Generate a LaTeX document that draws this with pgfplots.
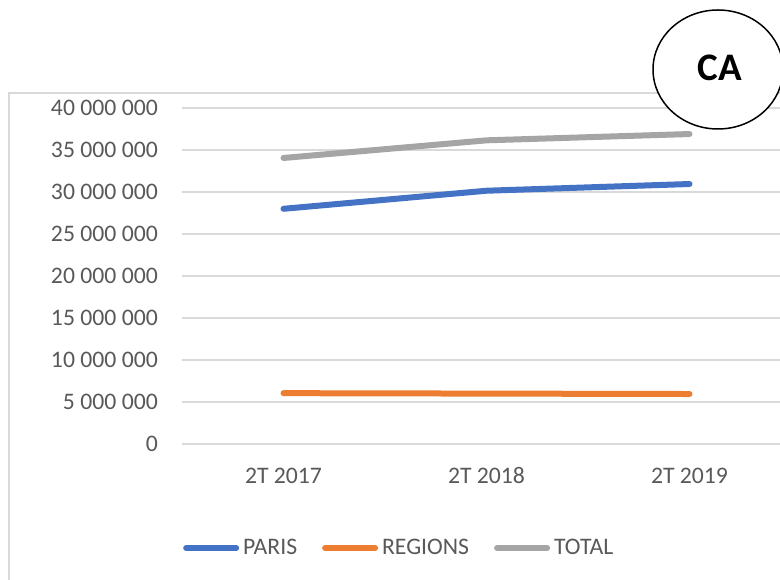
\documentclass[border=0pt]{standalone}
\usepackage{pgfplots}
\pgfplotsset{compat=1.18}
\usepackage{fontspec}
\setmainfont{Carlito}
\definecolor{cParis}{HTML}{4472C4}
\definecolor{cReg}{HTML}{ED7D31}
\definecolor{cTot}{HTML}{A5A5A5}
\definecolor{cGrid}{HTML}{D9D9D9}
\definecolor{cText}{HTML}{595959}
\begin{document}
\begin{tikzpicture}[x=1pt,y=1pt]
\useasboundingbox (0,0) rectangle (780,580);
\clip (0,0) rectangle (780,580);
\fill[white] (0,0) rectangle (780,580);
\draw[cGrid, line width=1.5pt] (9,-20) -- (9,487) -- (800,487);
\begin{axis}[
  at={(182pt,136pt)}, anchor=south west,
  scale only axis, width=609pt, height=336pt,
  xmin=-0.5, xmax=2.5, ymin=0, ymax=40000000,
  xtick={0,1,2}, xticklabels={2T 2017,2T 2018,2T 2019},
  ytick={0,5000000,10000000,15000000,20000000,25000000,30000000,35000000,40000000},
  yticklabels={0,{5 000 000},{10 000 000},{15 000 000},{20 000 000},{25 000 000},{30 000 000},{35 000 000},{40 000 000}},
  scaled y ticks=false,
  axis line style={draw=none},
  major tick length=0pt,
  ymajorgrids, grid style={cGrid, line width=1.8pt},
  yticklabel style={font=\fontsize{23.7}{28}\selectfont, text=cText, inner sep=0pt, anchor=east, xshift=-24pt},
  xticklabel style={font=\fontsize{23.7}{28}\selectfont, text=cText, inner sep=0pt, anchor=base, yshift=-40pt},
  every axis plot/.append style={line width=6pt, line cap=round, line join=round},
  legend columns=3,
  legend image code/.code={\draw[#1,line cap=round] (0pt,0pt) -- (50pt,0pt);},
  legend style={draw=none, fill=none, at={(0.0016,-0.3095)}, anchor=west,
    inner sep=0pt, font=\fontsize{23.7}{28}\selectfont, text=cText,
    nodes={inner sep=0pt},
    /tikz/every odd column/.append style={column sep=4pt},
    /tikz/every even column/.append style={column sep=25pt}},
]
\addplot[cParis] coordinates {(0,28000000) (1,30150000) (2,30950000)};
\addlegendentry{PARIS}
\addplot[cReg] coordinates {(0,6050000) (1,6000000) (2,5950000)};
\addlegendentry{REGIONS}
\addplot[cTot] coordinates {(0,34050000) (1,36150000) (2,36900000)};
\addlegendentry{TOTAL}
\end{axis}
\draw[black, line width=1.5pt, fill=white] (718,510.5) ellipse [x radius=65pt, y radius=59.5pt];
\node[font=\fontsize{39}{44}\selectfont\bfseries, inner sep=0pt] at (720,512.5) {CA};
\end{tikzpicture}
\end{document}
